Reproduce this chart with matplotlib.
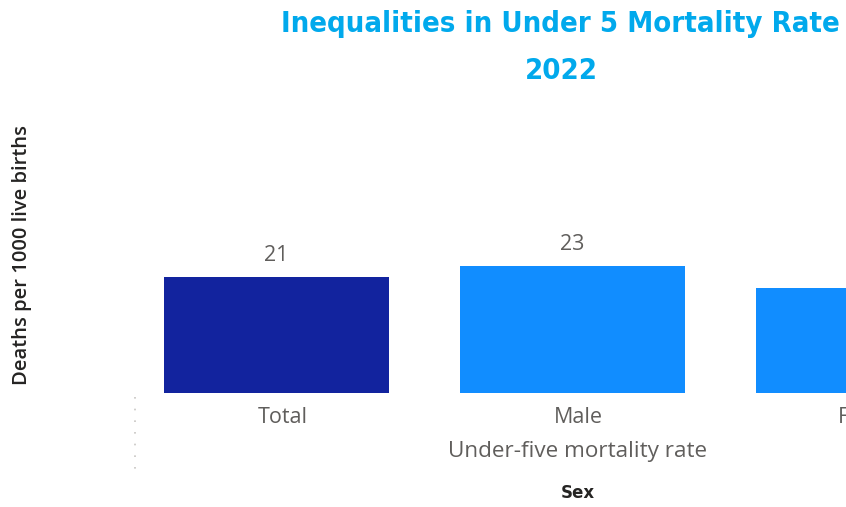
import matplotlib
matplotlib.use("Agg")
import matplotlib.pyplot as plt
from matplotlib.lines import Line2D
from matplotlib.transforms import ScaledTranslation

# =========================
# Data
# =========================
categories = ["Total", "Male", "Female"]
values = [21, 23, 19]
bar_colors = ["#12239E", "#118DFF", "#118DFF"]

title = "Inequalities in Under 5 Mortality Rate"
subtitle = "2022"
group_label = "Under-five mortality rate"
x_label = "Sex"
y_label = "Deaths per 1000 live births"

# =========================
# Figure
# =========================
W, H = 846, 507
fig = plt.figure(figsize=(W / 100, H / 100), dpi=100)

# axes extend past the right edge (chart is cropped in the reference)
left_px, right_px = 128.5, 1016.5
bottom_px, top_px = 393, 144.6
ax = fig.add_axes([left_px / W, 1 - bottom_px / H,
                   (right_px - left_px) / W, (bottom_px - top_px) / H])

x = list(range(len(categories)))
bars = ax.bar(x, values, width=0.76, color=bar_colors)
ax.bar_label(bars, labels=[str(v) for v in values], padding=8,
             fontsize=15.5, color="#605E5C", family="Open Sans")

ax.set_xlim(-0.5, len(categories) - 0.5)
ax.set_ylim(0, 45)
ax.set_xticks(x)
ax.set_xticklabels(categories, fontsize=15.5, color="#605E5C", family="Open Sans")
ax.tick_params(axis="x", length=0, pad=10)
ax.set_yticks([])
for s in ax.spines.values():
    s.set_visible(False)

# category labels sit slightly right of bar centres
shift = ScaledTranslation(6 / 100, 0, fig.dpi_scale_trans)
for lbl in ax.get_xticklabels():
    lbl.set_transform(lbl.get_transform() + shift)

# group label and axis titles
fig.text(578 / W, 1 - 451 / H, group_label, ha="center", va="center",
         fontsize=16.2, color="#605E5C", family="Open Sans")
fig.text(578 / W, 1 - 493 / H, x_label, ha="center", va="center",
         fontsize=12, color="#252423", fontweight="bold", family="DejaVu Sans")
fig.text(22 / W, 1 - 255 / H, y_label, ha="center", va="center", rotation=90,
         fontsize=14.5, color="#252423", fontweight="semibold", family="Open Sans")

# dotted hierarchy separator
fig.add_artist(Line2D([135 / W, 135 / W], [1 - 397 / H, 1 - 471 / H],
                      transform=fig.transFigure, color="#C8C6C4",
                      linestyle=(0, (1, 6)), linewidth=1.2))

# title
fig.text(560 / W, 1 - 24 / H, title,
         ha="center", va="center", fontsize=21, fontweight="bold",
         color="#01A9EC", family="DejaVu Sans", fontstretch="condensed")
fig.text(561 / W, 1 - 71 / H, subtitle,
         ha="center", va="center", fontsize=21, fontweight="bold",
         color="#01A9EC", family="DejaVu Sans", fontstretch="condensed")

fig.savefig("out.png", dpi=100)
